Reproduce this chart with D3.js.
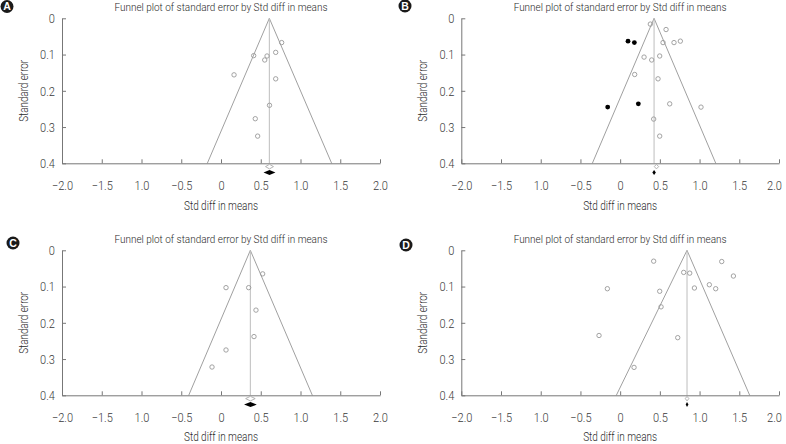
<!DOCTYPE html>
<html><head><meta charset="utf-8">
<script src="https://cdn.jsdelivr.net/npm/d3@7/dist/d3.min.js"></script>
<style>
html,body{margin:0;padding:0;background:#fff;}
svg{display:block;}
text{font-family:Roboto,"Liberation Sans",sans-serif;font-weight:300;}
</style></head>
<body><svg id="chart" width="786" height="444"></svg>
<script>
// ---- data ----
const panelLabels = ["A", "B", "C", "D"];
const chartTitle = "Funnel plot of standard error by Std diff in means";
const xTitle = "Std diff in means";
const yTitle = "Standard error";
const xTickValues = [-2, -1.5, -1, -0.5, 0, 0.5, 1, 1.5, 2];
const xTickLabels = ["\u22122.0", "\u22121.5", "1.0", "\u22120.5", "0", "0.5", "1.0", "1.5", "2.0"];
const yTickValues = [0, 0.1, 0.2, 0.3, 0.4];
const yTickLabels = ["0", "0.1", "0.2", "0.3", "0.4"];

// observed studies: [std diff, standard error]
const studiesA = [[0.763,0.067],[0.688,0.094],[0.411,0.103],[0.579,0.104],[0.55,0.115],[0.164,0.156],[0.688,0.167],[0.61,0.24],[0.431,0.277],[0.461,0.325]];
const studiesB = [[0.38,0.016],[0.578,0.031],[0.54,0.067],[0.678,0.067],[0.758,0.063],[0.301,0.107],[0.397,0.115],[0.498,0.104],[0.183,0.155],[0.477,0.167],[0.624,0.236],[1.018,0.245],[0.422,0.278],[0.498,0.325]];
const studiesC = [[0.524,0.065],[0.063,0.103],[0.348,0.103],[0.44,0.165],[0.415,0.238],[0.063,0.275],[-0.113,0.322]];
const studiesD = [[0.422,0.030],[1.279,0.031],[0.80,0.061],[0.876,0.063],[1.426,0.071],[1.123,0.095],[1.203,0.106],[0.935,0.104],[-0.161,0.106],[0.498,0.113],[0.515,0.156],[-0.266,0.235],[0.725,0.241],[0.175,0.323]];
// imputed (trim-and-fill) studies
const imputedA = [];
const imputedB = [[0.099,0.063],[0.179,0.067],[-0.157,0.245],[0.229,0.236]];
const imputedC = [];
const imputedD = [];
// funnel: apex (centre) and limits at SE = 0.4
const funnelCenter = [0.608, 0.427, 0.369, 0.842];
const funnelLeft = [-0.172, -0.35, -0.406, -0.048];
const funnelRight = [1.392, 1.204, 1.149, 1.631];
// summary diamonds: [point, lower, upper]
const observedSummary = [[0.61,0.56,0.66],[0.457,0.43,0.485],[0.37,0.31,0.43],[0.842,0.82,0.865]];
const adjustedSummary = [[0.61,0.535,0.685],[0.427,0.405,0.45],[0.37,0.29,0.45],[0.842,0.825,0.86]];

const studies = [studiesA, studiesB, studiesC, studiesD];
const imputed = [imputedA, imputedB, imputedC, imputedD];

// ---- layout ----
const svg = d3.select("#chart");
const panelPos = [
  {x0:62, x1:380, y0:18.3, y1:163.3, lx:7, ly:6.5, xt:47, right:false},
  {x0:461.3, x1:779, y0:18.3, y1:163.3, lx:405, ly:6, xt:47, right:true},
  {x0:62, x1:380, y0:250.3, y1:395.3, lx:13, ly:243, xt:45.5, right:false},
  {x0:461.3, x1:779, y0:250.3, y1:395.3, lx:406, ly:245, xt:45.5, right:true}
];
const axisColor = "#777";
const lineColor = "#a0a0a0";
const textColor = "#2a2a2a";
const condensed = 0.82;

panelPos.forEach((p, i) => {
  const g = svg.append("g");
  const x = d3.scaleLinear().domain([-2, 2]).range([p.x0, p.x1]);
  const y = d3.scaleLinear().domain([0, 0.4]).range([p.y0, p.y1]);

  // title
  g.append("text").attr("x", (p.x0 + p.x1) / 2).attr("y", p.y0 - 7)
    .attr("text-anchor", "middle").attr("font-size", 11.5).attr("fill", textColor)
    .attr("textLength", 213).attr("lengthAdjust", "spacingAndGlyphs")
    .text(chartTitle);

  // panel letter
  g.append("circle").attr("cx", p.lx).attr("cy", p.ly).attr("r", 6.5).attr("fill", "#1a1a1a");
  g.append("text").attr("x", p.lx).attr("y", p.ly + 3.8).attr("text-anchor", "middle")
    .attr("font-size", 10.5).attr("fill", "#fff")
    .style("font-weight", "bold")
    .style("font-family", "'Liberation Sans',Arial,sans-serif").text(panelLabels[i]);

  // funnel
  const c = funnelCenter[i];
  const seMax = 0.4;
  const funnel = [[funnelLeft[i], seMax], [c, 0], [funnelRight[i], seMax]];
  g.append("path").attr("d", d3.line().x(d => x(d[0])).y(d => y(d[1]))(funnel))
    .attr("fill", "none").attr("stroke", lineColor).attr("stroke-width", 1);
  g.append("line").attr("x1", x(c)).attr("x2", x(c)).attr("y1", y(0)).attr("y2", y(0.4))
    .attr("stroke", "#bdbdbd").attr("stroke-width", 1);

  // axes
  const xAxis = d3.axisBottom(x).tickValues(xTickValues).tickSize(0)
    .tickFormat((d, k) => xTickLabels[k]).tickPadding(17);
  const gx = g.append("g").attr("transform", `translate(0,${p.y1})`).call(xAxis);
  gx.select(".domain").attr("stroke", axisColor);
  gx.selectAll("text").attr("font-size", 13.5).attr("fill", "#3a3a3a")
    .attr("transform", (d, k) => `translate(${p.right && k === xTickValues.length - 1 ? -5 : 0},0) scale(${condensed},1)`);
  gx.selectAll(".tick").append("line").attr("y1", 0).attr("y2", -4).attr("stroke", axisColor);

  const yAxis = d3.axisLeft(y).tickValues(yTickValues).tickSize(0)
    .tickFormat((d, k) => yTickLabels[k]).tickPadding(0);
  const gy = g.append("g").attr("transform", `translate(${p.x0},0)`).call(yAxis);
  gy.select(".domain").attr("stroke", axisColor);
  gy.selectAll("text").attr("font-size", 13.5).attr("fill", "#3a3a3a")
    .attr("x", 0).attr("transform", `translate(-7,0) scale(${condensed},1)`);
  gy.selectAll(".tick").append("line").attr("x1", 0).attr("x2", 4).attr("stroke", axisColor);

  // axis titles
  g.append("text").attr("x", (p.x0 + p.x1) / 2).attr("y", p.y1 + p.xt)
    .attr("text-anchor", "middle").attr("font-size", 12.5).attr("fill", textColor)
    .attr("textLength", 74).attr("lengthAdjust", "spacingAndGlyphs").text(xTitle);
  g.append("text").attr("transform", `translate(${p.x0 - 34},${(p.y0 + p.y1) / 2}) rotate(-90)`)
    .attr("text-anchor", "middle").attr("font-size", 12.5).attr("fill", textColor)
    .attr("textLength", 62).attr("lengthAdjust", "spacingAndGlyphs").text(yTitle);

  // points
  g.selectAll("circle.obs").data(studies[i]).enter().append("circle").attr("class", "obs")
    .attr("cx", d => x(d[0])).attr("cy", d => y(d[1])).attr("r", 2.2)
    .attr("fill", "none").attr("stroke", "#999").attr("stroke-width", 0.9);
  g.selectAll("circle.imp").data(imputed[i]).enter().append("circle").attr("class", "imp")
    .attr("cx", d => x(d[0])).attr("cy", d => y(d[1])).attr("r", 2.4)
    .attr("fill", "#000");

  // summary diamonds
  const diamond = (s, yc, h) => `M${x(s[1])},${yc}L${x(s[0])},${yc - h}L${x(s[2])},${yc}L${x(s[0])},${yc + h}Z`;
  g.append("path").attr("d", diamond(observedSummary[i], p.y1 + 3.3, 2.3))
    .attr("fill", "#fff").attr("stroke", "#aaa").attr("stroke-width", 0.9);
  g.append("path").attr("d", diamond(adjustedSummary[i], p.y1 + 9.3, 2.5))
    .attr("fill", "#000");
});
</script></body></html>
